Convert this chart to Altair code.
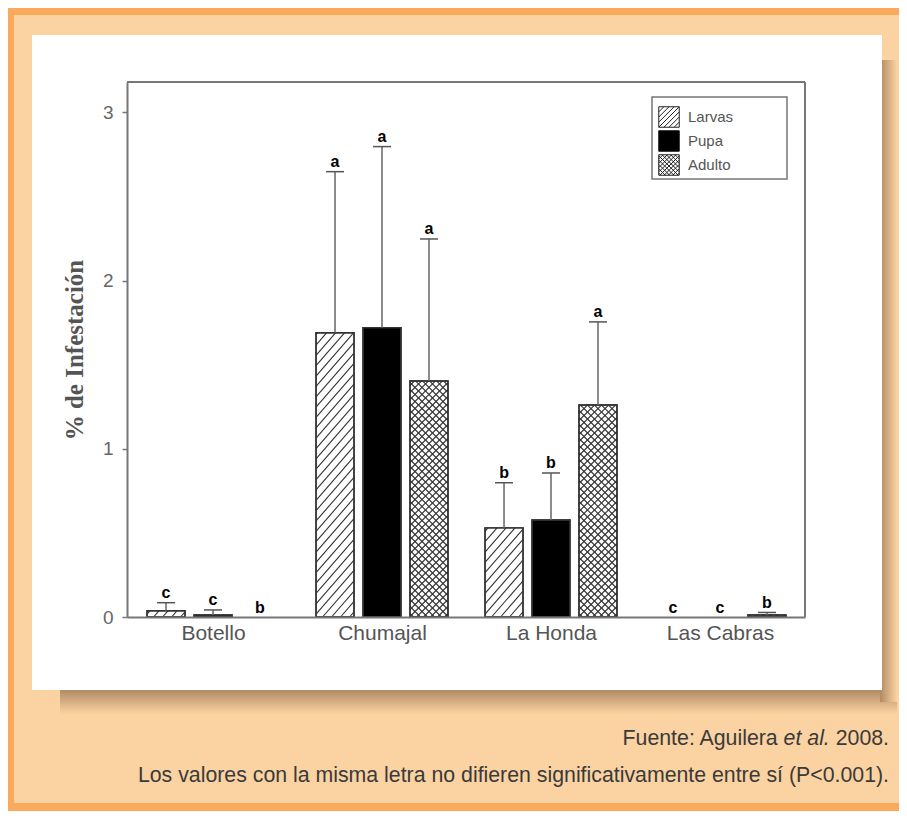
import json
import altair as alt
import numpy as np
import pandas as pd

# ---------------- data ----------------
sites = ["Botello", "Chumajal", "La Honda", "Las Cabras"]
stages = ["Larvas", "Pupa", "Adulto"]
larvas = [0.037, 1.69, 0.53, 0.0]
pupa = [0.012, 1.72, 0.577, 0.0]
adulto = [0.0, 1.403, 1.26, 0.012]
larvas_err = [0.048, 0.957, 0.268, 0.0]
pupa_err = [0.030, 1.076, 0.279, 0.0]
adulto_err = [0.0, 0.844, 0.494, 0.015]
larvas_sig = ["c", "a", "b", "c"]
pupa_sig = ["c", "a", "b", "c"]
adulto_sig = ["b", "a", "a", "b"]
y_ticks = [0, 1, 2, 3]
y_title = "% de Infestación"
source_parts = ["Fuente: Aguilera", "et al.", "2008."]
footnote = "Los valores con la misma letra no difieren significativamente entre sí (P<0.001)."

# ---------------- layout / style ----------------
W, H = 678, 535
PAD = {"left": 119, "top": 74, "right": 94, "bottom": 194}
X_DOM = [-0.509, 3.503]
Y_DOM = [0.0, 3.18]
SX = W / (X_DOM[1] - X_DOM[0])
SY = H / (Y_DOM[1] - Y_DOM[0])
OFFS = {"Larvas": -0.278, "Pupa": 0.0, "Adulto": 0.278}
BAR_HALF = 19 / SX
CAP_HALF = 9 / SX
ORANGE = "#FBA95A"
PEACH = "#FBD2A1"
FILLS = {"Larvas": "white", "Pupa": "black", "Adulto": "white"}
HATCH = {"Larvas": [(+1, 9.0, 1.15)], "Pupa": [], "Adulto": [(+1, 7.0, 1.0), (-1, 7.0, 1.0)]}

vals = {"Larvas": larvas, "Pupa": pupa, "Adulto": adulto}
errs = {"Larvas": larvas_err, "Pupa": pupa_err, "Adulto": adulto_err}
sigs = {"Larvas": larvas_sig, "Pupa": pupa_sig, "Adulto": adulto_sig}

rows = []
for gi, site in enumerate(sites):
    for st in stages:
        v = vals[st][gi]
        e = errs[st][gi]
        xc = gi + OFFS[st]
        rows.append(dict(site=site, stage=st, xc=xc, x0=xc - BAR_HALF, x1=xc + BAR_HALF,
                         cx0=xc - CAP_HALF, cx1=xc + CAP_HALF,
                         value=v, base=0.0, err=e, top=v + e, sig=sigs[st][gi],
                         fill=FILLS[st]))
df = pd.DataFrame(rows)
bars_df = df[df.value > 0]
err_df = df[df.err > 0]


def hatch_segments(x0, value, direction, spacing, slope):
    Wp = 2 * BAR_HALF * SX
    Hp = value * SY
    segs = []
    dk = spacing * slope
    if direction > 0:
        k = -slope * Wp + dk / 2
        while k < Hp:
            xa = max(0.0, -k / slope)
            xb = min(Wp, (Hp - k) / slope)
            if xb - xa > 0.5:
                segs.append((xa, slope * xa + k, xb, slope * xb + k))
            k += dk
    else:
        k = dk / 2
        while k < Hp + slope * Wp:
            xa = max(0.0, (k - Hp) / slope)
            xb = min(Wp, k / slope)
            if xb - xa > 0.5:
                segs.append((xa, -slope * xa + k, xb, -slope * xb + k))
            k += dk
    return [dict(xa=x0 + a / SX, ya=b / SY, xb=x0 + c / SX, yb=d / SY) for a, b, c, d in segs]


hatch_rows = []
for r in bars_df.itertuples():
    for direction, spacing, slope in HATCH[r.stage]:
        hatch_rows += hatch_segments(r.x0, r.value, direction, spacing, slope)
hatch_df = pd.DataFrame(hatch_rows)


def sym_path(step, dirs):
    p = "M-1,-1L1,-1L1,1L-1,1Z"
    c = -2 + step
    while c < 2 - 1e-9:
        if "/" in dirs:
            xa, xb = max(-1, c - 1), min(1, c + 1)
            p += f"M{xa:.3f},{c - xa:.3f}L{xb:.3f},{c - xb:.3f}"
        if "\\" in dirs:
            xa, xb = max(-1, -1 - c), min(1, 1 - c)
            p += f"M{xa:.3f},{xa + c:.3f}L{xb:.3f},{xb + c:.3f}"
        c += step
    return p


shape_range = [sym_path(0.5, "/"), "square", sym_path(0.42, "/\\")]

x_scale = alt.Scale(domain=X_DOM, nice=False, zero=False)
y_scale = alt.Scale(domain=Y_DOM, nice=False, zero=False)

x_axis = alt.Axis(values=list(range(len(sites))), ticks=False, grid=False, title=None,
                  labelExpr=json.dumps(sites) + "[round(datum.value)]",
                  labelFont="Liberation Sans", labelFontSize=21, labelColor="#555",
                  labelPadding=5, domainColor="#777", domainWidth=2, zindex=1)
y_axis = alt.Axis(values=y_ticks, grid=False, title=y_title, tickSize=5, tickColor="#777",
                  tickWidth=1.5, domainColor="#777", domainWidth=2,
                  labelFont="Liberation Sans", labelFontSize=19, labelColor="#666",
                  labelPadding=9, titleFont="Liberation Serif", titleFontWeight="bold",
                  titleFontSize=25, titleColor="#555", titlePadding=15, zindex=1)


def X(field):
    return alt.X(field, scale=x_scale, axis=x_axis)


def Y(field):
    return alt.Y(field, scale=y_scale, axis=y_axis)


one = alt.Data(values=[{}])


def deco_rect(x, x2, y, y2, fill, **kw):
    return alt.Chart(one).mark_rect(fill=fill, **kw).encode(
        x=alt.value(x), x2=alt.value(x2), y=alt.value(y), y2=alt.value(y2))


peach = deco_rect(-113, 790, -67, 721, PEACH)
shadow_b = deco_rect(-67, 770, 606, 632, alt.LinearGradient(
    gradient="linear", x1=0, x2=0, y1=0, y2=1,
    stops=[alt.GradientStop(color="#a98560", offset=0), alt.GradientStop(color=PEACH, offset=1)]))
shadow_r = deco_rect(753, 770, -22, 620, alt.LinearGradient(
    gradient="linear", x1=0, x2=1, y1=0, y2=0,
    stops=[alt.GradientStop(color="#b08a64", offset=0), alt.GradientStop(color=PEACH, offset=1)]))
panel = deco_rect(-95, 755, -47, 608, "white")
legend_box = deco_rect(525, 660, 15, 97, "white", stroke="#777", strokeWidth=1.5)

bars = alt.Chart(bars_df).mark_rect(stroke="#333", strokeWidth=1.4).encode(
    x=X("x0:Q"), x2="x1:Q", y=Y("value:Q"), y2="base:Q",
    fill=alt.Fill("fill:N", scale=None),
)

hatch = alt.Chart(hatch_df).mark_rule(color="#333", strokeWidth=1.1).encode(
    x=X("xa:Q"), x2="xb:Q", y=Y("ya:Q"), y2="yb:Q")

outline = alt.Chart(bars_df).mark_rect(fill=None, stroke="#333", strokeWidth=1.4).encode(
    x=X("x0:Q"), x2="x1:Q", y=Y("value:Q"), y2="base:Q")

err_line = alt.Chart(err_df).mark_rule(color="#666", strokeWidth=1.5).encode(
    x=X("xc:Q"), y=Y("value:Q"), y2="top:Q")

caps = alt.Chart(err_df).mark_rule(color="#555", strokeWidth=1.5).encode(
    x=X("cx0:Q"), x2="cx1:Q", y=Y("top:Q"))

letters = alt.Chart(df).mark_text(font="Liberation Sans", fontSize=16, fontWeight="bold",
                                  color="black", baseline="alphabetic", dy=-4.5).encode(
    x=X("xc:Q"), y=Y("top:Q"), text="sig:N")

frame_df = pd.DataFrame([
    dict(xa=X_DOM[0], xb=X_DOM[1], ya=Y_DOM[1], yb=Y_DOM[1]),
    dict(xa=X_DOM[1], xb=X_DOM[1], ya=Y_DOM[0], yb=Y_DOM[1]),
])
frame = alt.Chart(frame_df).mark_rule(color="#777", strokeWidth=2).encode(
    x=X("xa:Q"), x2="xb:Q", y=Y("ya:Q"), y2="yb:Q")

leg = dict(title=None, orient="none", legendX=522, legendY=15,
           padding=9, symbolSize=420, symbolStrokeWidth=1, symbolOpacity=1,
           labelFont="Liberation Sans", labelFontSize=15, labelColor="#555",
           labelOffset=8, rowPadding=-2)
legend_pts = alt.Chart(df).mark_point(filled=True, opacity=0, size=4).encode(
    x=X("xc:Q"), y=Y("value:Q"),
    color=alt.Color("stage:N", scale=alt.Scale(domain=stages, range=["white", "black", "white"]),
                    legend=alt.Legend(**leg)),
    shape=alt.Shape("stage:N", scale=alt.Scale(domain=stages, range=shape_range),
                    legend=alt.Legend(**leg)),
    stroke=alt.Stroke("stage:N", scale=alt.Scale(domain=stages, range=["#222", "#111", "#222"]),
                      legend=alt.Legend(**leg)),
)

# captions (Arial metrics to place the italic part)
FS = 21.3
R = 762
w_2008 = (556 * 4 + 278) / 1000 * FS
w_space = 278 / 1000 * FS
w_etal = 2168 / 1000 * FS
cap_normal = pd.DataFrame([
    dict(t=source_parts[0], px=R - w_2008 - w_space - w_etal - w_space, py=663),
    dict(t=source_parts[2], px=R, py=663),
    dict(t=footnote, px=R, py=700),
])
cap_italic = pd.DataFrame([dict(t=source_parts[1], px=R - w_2008 - w_space, py=663)])
txt_normal = alt.Chart(cap_normal).mark_text(align="right", baseline="alphabetic",
                                             font="Liberation Sans", fontSize=FS,
                                             color="#3a3a3a").encode(
    x=alt.X("px:Q", scale=None), y=alt.Y("py:Q", scale=None), text="t:N")
txt_italic = alt.Chart(cap_italic).mark_text(align="right", baseline="alphabetic",
                                             font="Liberation Sans", fontSize=FS,
                                             fontStyle="italic", color="#3a3a3a").encode(
    x=alt.X("px:Q", scale=None), y=alt.Y("py:Q", scale=None), text="t:N")

chart = alt.layer(
    peach, shadow_b, shadow_r, panel, bars, hatch, outline, err_line, caps, letters,
    frame, legend_box, legend_pts, txt_normal, txt_italic,
).properties(
    width=W, height=H, padding=PAD,
    autosize=alt.AutoSizeParams(type="none"),
    background=ORANGE,
).configure_view(stroke=None)

chart.save("out.html", embed_options={"renderer": "svg", "actions": False})
